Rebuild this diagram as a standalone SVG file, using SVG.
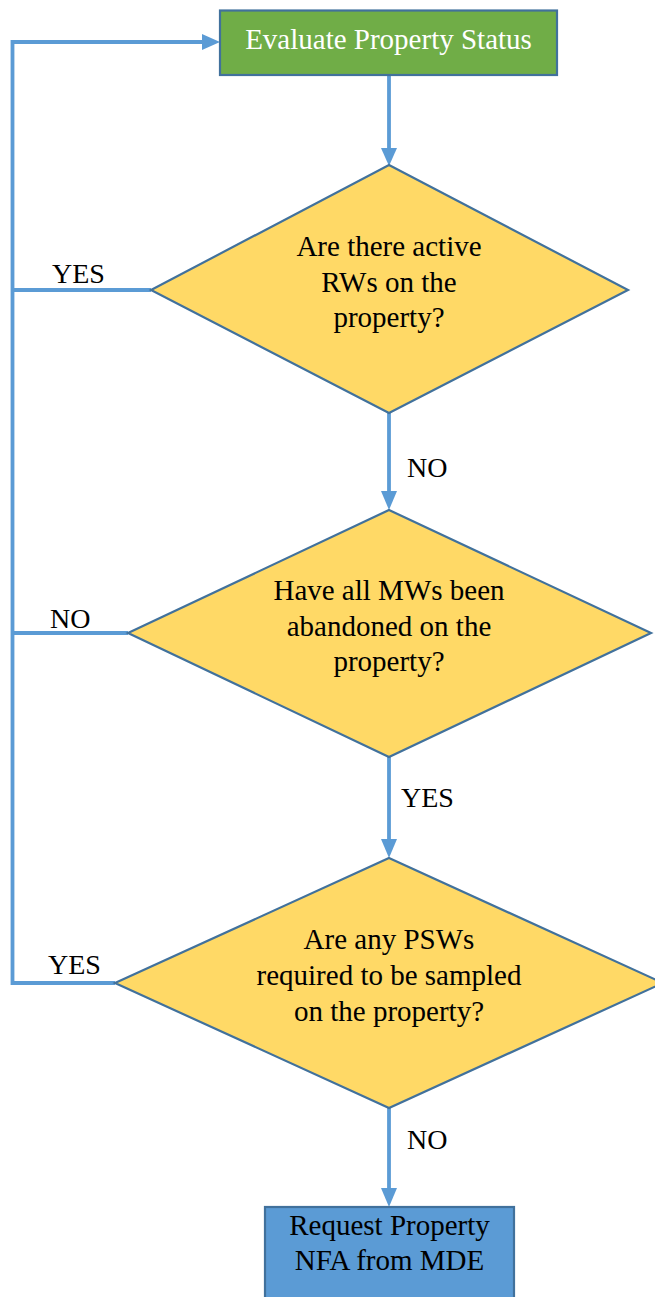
<svg xmlns="http://www.w3.org/2000/svg" width="655" height="1297" viewBox="0 0 655 1297">
<style>
.t{font-family:'Liberation Serif','Tinos','DejaVu Serif',serif;font-size:29px;fill:#000;text-anchor:middle}
.lbl{font-family:'Liberation Serif','Tinos','DejaVu Serif',serif;font-size:28px;fill:#000}
.w{fill:#fff}
.dia{fill:#FFD966;stroke:#41719C;stroke-width:2.2}
.con{fill:none;stroke:#5B9BD5;stroke-width:3.8}
.ah{fill:#5B9BD5}
</style>
<rect width="655" height="1297" fill="#fff"/>
<g id="connectors">
<path class="con" d="M389,75 V151"/>
<polygon class="ah" points="381,148 397,148 389,166"/>
<path class="con" d="M389,413 V494"/>
<polygon class="ah" points="381,491 397,491 389,510"/>
<path class="con" d="M389,757 V842"/>
<polygon class="ah" points="381,839 397,839 389,858"/>
<path class="con" d="M389,1108 V1191"/>
<polygon class="ah" points="381,1188 397,1188 389,1207"/>
<path class="con" d="M151,290 H12.5 M128,633 H12.5 M115,983 H12.5 V42 H205"/>
<polygon class="ah" points="202,34 202,50 220,42"/>
<text class="lbl" x="52" y="283">YES</text>
<text class="lbl" x="407" y="477">NO</text>
<text class="lbl" x="50" y="628">NO</text>
<text class="lbl" x="401" y="807">YES</text>
<text class="lbl" x="48" y="974">YES</text>
<text class="lbl" x="407" y="1149">NO</text>
</g>
<g id="evaluate">
<rect x="220" y="10.5" width="337" height="64.5" fill="#70AD47" stroke="#41719C" stroke-width="2.2"/>
<text class="t w" x="388.5" y="49">Evaluate Property Status</text>
</g>
<g id="q-rws">
<polygon class="dia" points="389,165 628,290 389,413 151,290"/>
<text class="t" x="389" y="256">Are there active</text>
<text class="t" x="389" y="291.5">RWs on the</text>
<text class="t" x="389" y="327">property?</text>
</g>
<g id="q-mws">
<polygon class="dia" points="389,510 651,633 389,757 128,633"/>
<text class="t" x="389" y="600">Have all MWs been</text>
<text class="t" x="389" y="635.5">abandoned on the</text>
<text class="t" x="389" y="671">property?</text>
</g>
<g id="q-psws">
<polygon class="dia" points="389,858 663,983 389,1108 115,983"/>
<text class="t" x="389" y="949">Are any PSWs</text>
<text class="t" x="389" y="985">required to be sampled</text>
<text class="t" x="389" y="1021">on the property?</text>
</g>
<g id="request-nfa">
<rect x="265" y="1207" width="249" height="100" fill="#5B9BD5" stroke="#41719C" stroke-width="2.2"/>
<text class="t" x="389.5" y="1235">Request Property</text>
<text class="t" x="389.5" y="1270">NFA from MDE</text>
</g>
</svg>
